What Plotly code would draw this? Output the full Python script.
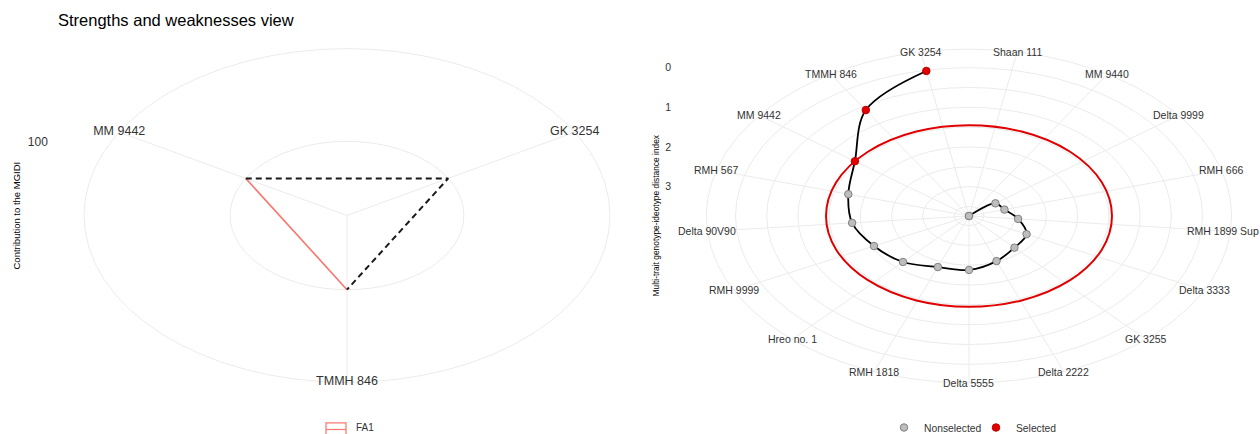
import numpy as np
import plotly.graph_objects as go

# ---------------- Strengths and weaknesses view ----------------
sw_genotypes = ["GK 3254", "TMMH 846", "MM 9442"]
fa1_contribution = [100, 100, 100]
sw_r_max = 200
sw_grid_values = [100]
sw_tick_text = ["100"]

# ---------------- MGIDI ranking (ordered from highest to lowest) ----------------
genotypes = ["Shaan 111", "MM 9440", "Delta 9999", "RMH 666", "RMH 1899 Sup",
             "Delta 3333", "GK 3255", "Delta 2222", "Delta 5555", "RMH 1818",
             "Hreo no. 1", "RMH 9999", "Delta 90V90", "RMH 567", "MM 9442",
             "TMMH 846", "GK 3254"]
mgidi = [3.74, 3.74, 3.21, 3.15, 2.95, 2.71, 2.66, 2.52, 2.38, 2.36,
         2.17, 2.04, 1.86, 1.73, 1.45, 0.60, 0.02]
selected = ["GK 3254", "TMMH 846", "MM 9442"]
mgidi_ticks = [0, 1, 2, 3]
mgidi_grid = [0, 0.5, 1, 1.5, 2, 2.5, 3, 3.5]

W, H = 1260, 442
VY = H / 434           # vertical layout unit
OUTER = 1.125          # outer ring relative to the radial range
PAD = 1.16             # axis half-range in normalised units
FONT = "Liberation Sans, Arial, sans-serif"
GRID = "#ebebeb"
TXT = "#333333"


def angles(n):
    """Clockwise angle from the top for n discrete categories."""
    return (np.arange(n) + 0.5) / n * 2 * np.pi


def to_xy(rho, th):
    rho = np.asarray(rho, float)
    return rho * np.sin(th), rho * np.cos(th)


def py(v):
    """Vertical paper position for a layout row given in layout units."""
    return 1 - v * VY / H


def domain(cx, cy, sx, sy):
    xd = [(cx - PAD * sx) / W, (cx + PAD * sx) / W]
    yd = [py(cy + PAD * sy), py(cy - PAD * sy)]
    return xd, yd


fig = go.Figure()

# ======================= left panel =======================
th_sw = angles(len(sw_genotypes))
rho_sw = np.array(fa1_contribution, float) / sw_r_max

sx_, sy_ = [], []
for t in th_sw:
    sx_ += [0, OUTER * np.sin(t), None]
    sy_ += [0, OUTER * np.cos(t), None]
fig.add_trace(go.Scatter(x=sx_, y=sy_, mode="lines", line=dict(color=GRID, width=1),
                         hoverinfo="skip", showlegend=False, cliponaxis=False,
                         xaxis="x", yaxis="y"))

px_sw, py_sw = to_xy(rho_sw, th_sw)
idx = {g: i for i, g in enumerate(sw_genotypes)}
# FA1 contribution
fa1_order = [idx["MM 9442"], idx["TMMH 846"]]
fig.add_trace(go.Scatter(x=px_sw[fa1_order], y=py_sw[fa1_order], mode="lines",
                         line=dict(color="#F8766D", width=1.6), name="FA1",
                         showlegend=False, hoverinfo="skip", xaxis="x", yaxis="y"))
# dashed reference path
dash_order = [idx["MM 9442"], idx["GK 3254"], idx["TMMH 846"]]
fig.add_trace(go.Scatter(x=px_sw[dash_order], y=py_sw[dash_order], mode="lines",
                         line=dict(color="#1a1a1a", width=2, dash="6px,4px"),
                         showlegend=False, hoverinfo="skip", xaxis="x", yaxis="y"))

lx, ly = to_xy(np.full(len(sw_genotypes), OUTER), th_sw)
fig.add_trace(go.Scatter(x=lx, y=ly, mode="text", text=sw_genotypes,
                         textposition="middle center",
                         textfont=dict(family=FONT, size=12.5, color=TXT),
                         hoverinfo="skip", showlegend=False, cliponaxis=False,
                         xaxis="x", yaxis="y"))

# ======================= right panel =======================
n = len(genotypes)
th = angles(n)
r_lo, r_hi = 0.0, max(mgidi)
rho = (r_hi - np.array(mgidi)) / (r_hi - r_lo)   # reversed radial scale

sx_, sy_ = [], []
for t in th:
    sx_ += [0, OUTER * np.sin(t), None]
    sy_ += [0, OUTER * np.cos(t), None]
fig.add_trace(go.Scatter(x=sx_, y=sy_, mode="lines", line=dict(color=GRID, width=1),
                         hoverinfo="skip", showlegend=False, cliponaxis=False,
                         xaxis="x2", yaxis="y2"))

gx, gy = to_xy(rho, th)
fig.add_trace(go.Scatter(x=gx, y=gy, mode="lines",
                         line=dict(color="black", width=1.8, shape="spline", smoothing=1),
                         hoverinfo="skip", showlegend=False, xaxis="x2", yaxis="y2"))

is_sel = np.array([g in selected for g in genotypes])
fig.add_trace(go.Scatter(x=gx[~is_sel], y=gy[~is_sel], mode="markers", name="Nonselected",
                         marker=dict(size=7.5, color="#bdbdbd", line=dict(color="#808080", width=1)),
                         text=np.array(genotypes)[~is_sel], cliponaxis=False,
                         legend="legend", xaxis="x2", yaxis="y2"))
fig.add_trace(go.Scatter(x=gx[is_sel], y=gy[is_sel], mode="markers", name="Selected",
                         marker=dict(size=7.5, color="#e00000", line=dict(color="#c00000", width=1)),
                         text=np.array(genotypes)[is_sel], cliponaxis=False,
                         legend="legend2", xaxis="x2", yaxis="y2"))

# genotype labels centred on the outer ring; the one at the right edge is kept inside
lx, ly = to_xy(np.full(n, OUTER), th)
annotations = []
for g, x, y in zip(genotypes, lx, ly):
    shift = -8 if g == "RMH 1899 Sup" else 0
    annotations.append(dict(text=g, x=x, y=y, xref="x2", yref="y2", showarrow=False,
                            xanchor="center", yanchor="middle", xshift=shift,
                            font=dict(family=FONT, size=10.5, color=TXT)))

# ======================= grid rings and cut-off =======================
shapes = []
for v in sw_grid_values:
    rr = v / sw_r_max
    shapes.append(dict(type="circle", xref="x", yref="y", x0=-rr, x1=rr, y0=-rr, y1=rr,
                       line=dict(color=GRID, width=1), layer="below"))
shapes.append(dict(type="circle", xref="x", yref="y", x0=-OUTER, x1=OUTER, y0=-OUTER, y1=OUTER,
                   line=dict(color=GRID, width=1), layer="below"))
for v in mgidi_grid:
    rr = (r_hi - v) / (r_hi - r_lo)
    shapes.append(dict(type="circle", xref="x2", yref="y2", x0=-rr, x1=rr, y0=-rr, y1=rr,
                       line=dict(color=GRID, width=1), layer="below"))
shapes.append(dict(type="circle", xref="x2", yref="y2", x0=-OUTER, x1=OUTER, y0=-OUTER, y1=OUTER,
                   line=dict(color=GRID, width=1), layer="below"))

cutoff = max(m for g, m in zip(genotypes, mgidi) if g in selected)
rc = (r_hi - cutoff) / (r_hi - r_lo)
shapes.append(dict(type="circle", xref="x2", yref="y2", x0=-rc, x1=rc, y0=-rc, y1=rc,
                   line=dict(color="#e00000", width=2)))

# FA1 legend key
shapes.append(dict(type="rect", xref="paper", yref="paper",
                   x0=326 / W, x1=346 / W, y0=py(436), y1=py(422),
                   line=dict(color="#F8766D", width=1.2), fillcolor="rgba(0,0,0,0)"))
shapes.append(dict(type="line", xref="paper", yref="paper",
                   x0=326 / W, x1=346 / W, y0=py(428.5), y1=py(428.5),
                   line=dict(color="#F8766D", width=1.2)))

annotations += [
    dict(text="Strengths and weaknesses view", x=56 / W, y=py(20), xref="paper", yref="paper",
         xanchor="left", yanchor="middle", showarrow=False,
         font=dict(family=FONT, size=16.5, color="black")),
    dict(text="Contribution to the MGIDI", x=16 / W, y=py(215), xref="paper", yref="paper",
         xanchor="center", yanchor="middle", showarrow=False, textangle=-90,
         font=dict(family=FONT, size=9.5, color="black")),
    dict(text="Multi-trait genotype-ideotype distance index", x=656 / W, y=py(215),
         xref="paper", yref="paper", xanchor="center", yanchor="middle", showarrow=False,
         textangle=-90, font=dict(family=FONT, size=8.4, color="black")),
    dict(text="FA1", x=354 / W, y=py(427), xref="paper", yref="paper",
         xanchor="left", yanchor="middle", showarrow=False,
         font=dict(family=FONT, size=10, color=TXT)),
]

# panel geometry (layout units per normalised radius)
L_cx, L_cy, L_sx, L_sy = 347, 215, 263 / OUTER, 166.5 / OUTER
R_cx, R_cy, R_sx, R_sy = 969, 215.5, 262.7 / OUTER, 166.5 / OUTER
lxd, lyd = domain(L_cx, L_cy, L_sx, L_sy)
rxd, ryd = domain(R_cx, R_cy, R_sx, R_sy)

hidden_x = dict(range=[-PAD, PAD], showgrid=False, zeroline=False, showticklabels=False,
                showline=False, ticks="", fixedrange=True)
legend_style = dict(orientation="h", xanchor="left", yanchor="middle", y=py(427),
                    font=dict(family=FONT, size=10.3, color=TXT), bgcolor="rgba(0,0,0,0)",
                    itemclick=False, itemdoubleclick=False)

fig.update_layout(
    width=W, height=H,
    margin=dict(l=0, r=0, t=0, b=0),
    paper_bgcolor="white", plot_bgcolor="white",
    font=dict(family=FONT, color=TXT),
    xaxis=dict(domain=lxd, **hidden_x),
    yaxis=dict(domain=lyd, range=[-PAD, PAD], showgrid=False, zeroline=False, showline=False,
               ticks="", tickvals=[v / sw_r_max for v in sw_grid_values], ticktext=sw_tick_text,
               ticklabelstandoff=27, tickfont=dict(family=FONT, size=12, color=TXT),
               fixedrange=True, anchor="x"),
    xaxis2=dict(domain=rxd, anchor="y2", **hidden_x),
    yaxis2=dict(domain=ryd, range=[-PAD, PAD], showgrid=False, zeroline=False, showline=False,
                ticks="", tickvals=[(r_hi - v) / (r_hi - r_lo) for v in mgidi_ticks],
                ticktext=[str(v) for v in mgidi_ticks], ticklabelstandoff=26,
                tickfont=dict(family=FONT, size=10.5, color=TXT),
                fixedrange=True, anchor="x2"),
    shapes=shapes,
    annotations=annotations,
    showlegend=True,
    legend=dict(x=884 / W, **legend_style),
    legend2=dict(x=976 / W, **legend_style),
)

fig.write_html("out.html")
